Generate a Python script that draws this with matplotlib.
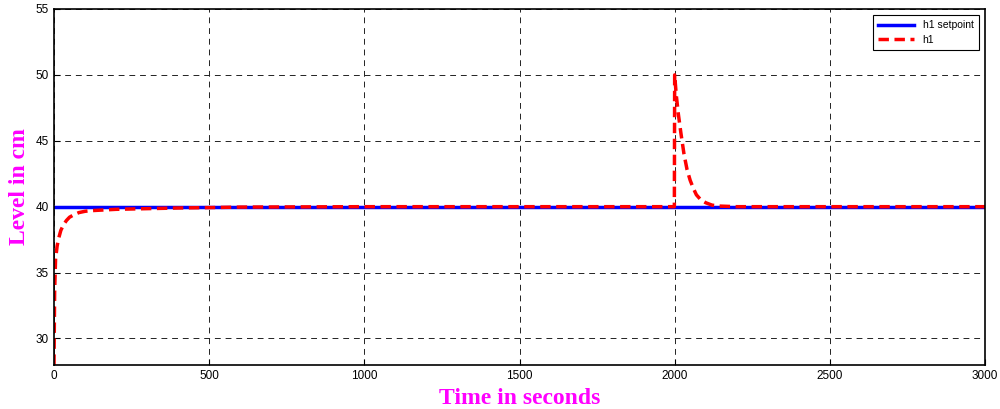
import matplotlib
matplotlib.use("Agg")
import matplotlib.pyplot as plt
import numpy as np

# ---- Data ----------------------------------------------------------------
t_set  = [0, 3000]
h_set  = [40, 40]

t_h1 = [0, 2, 5, 10, 15, 22, 30, 40, 50, 65, 80, 100, 120, 160, 200, 300, 400,
        500, 600, 1000, 1500, 1999, 2000, 2005, 2012, 2020, 2030, 2040, 2050,
        2060, 2070, 2085, 2100, 2120, 2140, 2200, 2500, 3000]
h_h1 = [28, 33.5, 36.0, 37.0, 37.6, 38.2, 38.6, 38.95, 39.2, 39.4, 39.55, 39.65,
        39.7, 39.75, 39.8, 39.85, 39.9, 39.93, 39.97, 40, 40, 40, 50, 48.5, 47.0,
        45.6, 44.0, 42.8, 42.0, 41.4, 40.9, 40.5, 40.3, 40.12, 40.05, 40, 40, 40]

xticks = [0, 500, 1000, 1500, 2000, 2500, 3000]
yticks = [30, 35, 40, 45, 50, 55]

# ---- Figure --------------------------------------------------------------
fig = plt.figure(figsize=(10, 4.09), dpi=100)
ax = fig.add_axes([0.054, 0.108, 0.931, 0.87])

ax.plot(t_set, h_set, color="#0000FF", linewidth=2.5, label="h1 setpoint")
ax.plot(t_h1, h_h1, color="#FF0000", linewidth=2.5, linestyle=(0, (3, 1.6)),
        label="h1")

ax.set_xlim(0, 3000)
ax.set_ylim(28, 55)
ax.set_xticks(xticks)
ax.set_yticks(yticks)
ax.grid(True, color="#222222", linestyle=(0, (6, 5)), linewidth=0.7)
for lbl in ax.get_xticklabels() + ax.get_yticklabels():
    lbl.set_fontfamily("Liberation Sans")
    lbl.set_fontsize(8.5)
ax.tick_params(direction="in", length=4, pad=4, width=0.8)
for s in ax.spines.values():
    s.set_linewidth(1.2)

ax.set_xlabel("Time in seconds", fontsize=17, fontweight="bold",
              family="Liberation Serif", color="#FF00FF", labelpad=4)
ax.set_ylabel("Level in cm", fontsize=17, fontweight="bold",
              family="Liberation Serif", color="#FF00FF", labelpad=4)

leg = ax.legend(loc="upper right", prop={"family": "Liberation Sans", "size": 7.5},
                fancybox=False, edgecolor="black", framealpha=1,
                handlelength=3.5, borderpad=0.5, labelspacing=0.4,
                borderaxespad=0.6)
leg.get_frame().set_linewidth(0.8)

fig.savefig("out.png", dpi=100)
